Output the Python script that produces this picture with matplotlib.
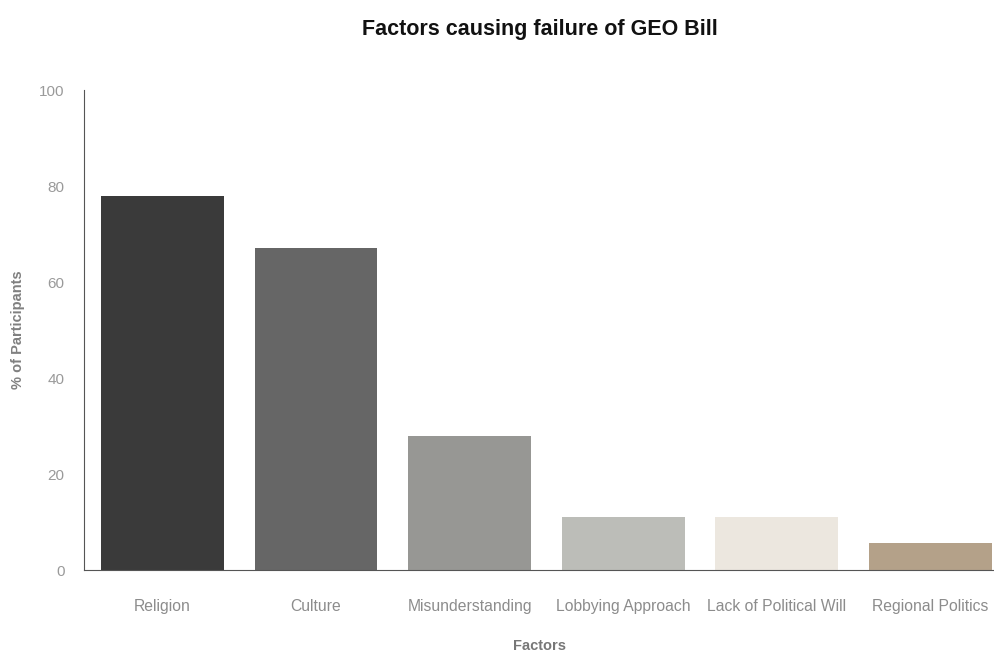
import matplotlib
matplotlib.use("Agg")
import matplotlib.pyplot as plt

categories = ["Religion", "Culture", "Misunderstanding", "Lobbying Approach",
              "Lack of Political Will", "Regional Politics"]
values = [78, 67, 28, 11, 11, 5.6]
colors = ["#3a3a3a", "#666666", "#979794", "#bcbdb8", "#ece7df", "#b4a189"]
yticks = [0, 20, 40, 60, 80, 100]

plt.rcParams["font.family"] = ["Liberation Sans", "DejaVu Sans"]

fig = plt.figure(figsize=(9.95, 6.55), dpi=100)
ax = fig.add_axes([84/995, (655-570)/655, 1 - 84/995, (570-90)/655])

x = range(len(categories))
ax.bar(x, values, width=0.8, color=colors, zorder=2)

ax.set_xlim(-0.51, 5.42)
ax.set_ylim(0, 100)
ax.set_xticks(list(x))
ax.set_xticklabels(categories, fontsize=11.3, color="#8c8c8c")
ax.set_yticks(yticks)
ax.set_yticklabels([str(v) for v in yticks], fontsize=11, color="#9a9a9a")
ax.tick_params(axis="x", length=0, pad=21)
ax.tick_params(axis="y", length=0, pad=14)

for s in ["top", "right"]:
    ax.spines[s].set_visible(False)
ax.spines["left"].set_color("#555555")
ax.spines["bottom"].set_color("#555555")

ax.set_xlabel("Factors", fontsize=10.5, fontweight="bold", color="#777777")
ax.set_ylabel("% of Participants", fontsize=10.5, fontweight="bold", color="#808080")
ax.xaxis.set_label_coords(0.5, (570-646)/480, transform=ax.transAxes)
ax.xaxis.label.set_verticalalignment("center")
ax.yaxis.set_label_coords((18-84)/911, 0.5, transform=ax.transAxes)
ax.yaxis.label.set_verticalalignment("center")

fig.text(539.5/995, 1 - 30/655, "Factors causing failure of GEO Bill",
         ha="center", va="center", fontsize=15.5, fontweight="bold", color="#111111")

fig.savefig("out.png", dpi=100)
